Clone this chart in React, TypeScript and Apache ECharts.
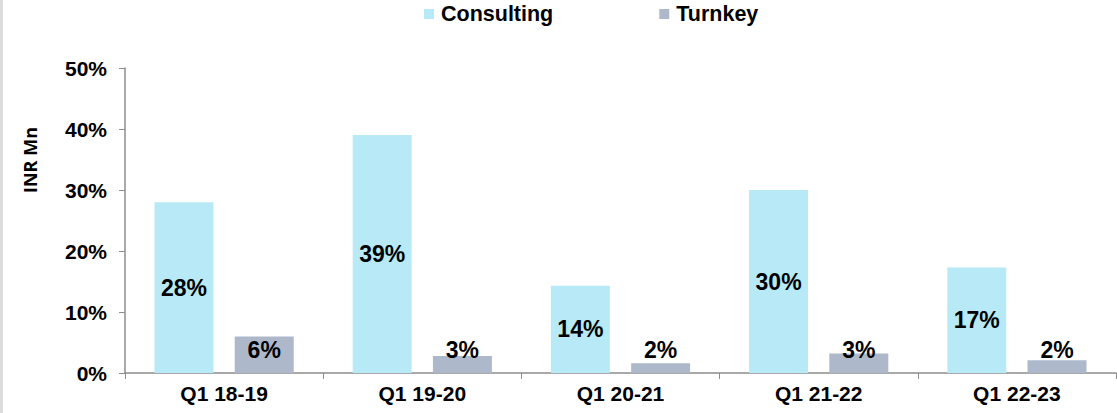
import React, { useEffect, useRef } from "react";
import * as echarts from "echarts";

const categories = ["Q1 18-19", "Q1 19-20", "Q1 20-21", "Q1 21-22", "Q1 22-23"];
const consulting = [28, 39, 14.3, 30, 17.3];
const turnkey = [6, 2.8, 1.6, 3.2, 2.1];
const consultingLabels = ["28%", "39%", "14%", "30%", "17%"];
const turnkeyLabels = ["6%", "3%", "2%", "3%", "2%"];

export default function App() {
  const ref = useRef<HTMLDivElement>(null);
  useEffect(() => {
    const chart = echarts.init(ref.current!, null, { renderer: "svg" });
    const font = "'Liberation Sans', Arial, sans-serif";
    chart.setOption({
      animation: false,
      backgroundColor: "#ffffff",
      textStyle: { fontFamily: font },
      legend: {
        left: 424,
        top: 3,
        padding: 0,
        itemWidth: 10,
        itemHeight: 10,
        itemGap: 106,
        icon: "rect",
        textStyle: { fontSize: 21.5, fontWeight: "bold", color: "#000", fontFamily: font, padding: [0, 0, 0, 2] },
        data: ["Consulting", "Turnkey"],
      },
      grid: { left: 125, right: 1, top: 68, bottom: 40, containLabel: false },
      xAxis: {
        type: "category",
        data: categories,
        axisLine: { lineStyle: { color: "#8c8c8c", width: 1.5 } },
        axisTick: { show: true, length: 6, alignWithLabel: false, lineStyle: { color: "#8c8c8c" } },
        axisLabel: { fontSize: 21, fontWeight: "bold", color: "#000", margin: 10, fontFamily: font },
      },
      yAxis: {
        type: "value",
        min: 0,
        max: 50,
        interval: 10,
        splitLine: { show: false },
        axisLine: { show: true, lineStyle: { color: "#8c8c8c", width: 1.5 } },
        axisTick: { show: true, length: 6, lineStyle: { color: "#8c8c8c" } },
        axisLabel: { fontSize: 21, fontWeight: "bold", color: "#000", margin: 18, formatter: "{value}%", fontFamily: font },
      },
      graphic: [
        { type: "rect", left: 0, top: 0, shape: { x: 0, y: 0, width: 3, height: 413 }, style: { fill: "#dcdcdc" } },
        {
          type: "text",
          x: 30,
          y: 160,
          rotation: Math.PI / 2,
          style: {
            text: "INR Mn",
            fontFamily: "'Open Sans', sans-serif",
            fontWeight: "bold",
            fontSize: 18,
            fill: "#000",
            align: "center",
            verticalAlign: "middle",
          },
        },
      ],
      series: [
        {
          name: "Consulting",
          type: "bar",
          data: consulting,
          barWidth: 59,
          barGap: "36%",
          itemStyle: { color: "#B7EAF6" },
          label: {
            show: true,
            position: "inside",
            fontSize: 23,
            fontWeight: "bold",
            color: "#000",
            fontFamily: font,
            formatter: (p: any) => consultingLabels[p.dataIndex],
          },
        },
        {
          name: "Turnkey",
          type: "bar",
          data: turnkey,
          barWidth: 59,
          itemStyle: { color: "#ADB9CB" },
          label: {
            show: true,
            position: "insideBottom",
            distance: 12,
            fontSize: 23,
            fontWeight: "bold",
            color: "#000",
            fontFamily: font,
            formatter: (p: any) => turnkeyLabels[p.dataIndex],
          },
        },
      ],
    });
    return () => chart.dispose();
  }, []);
  return <div ref={ref} style={{ position: "fixed", left: 0, top: 0, width: 1117, height: 413 }} />;
}
